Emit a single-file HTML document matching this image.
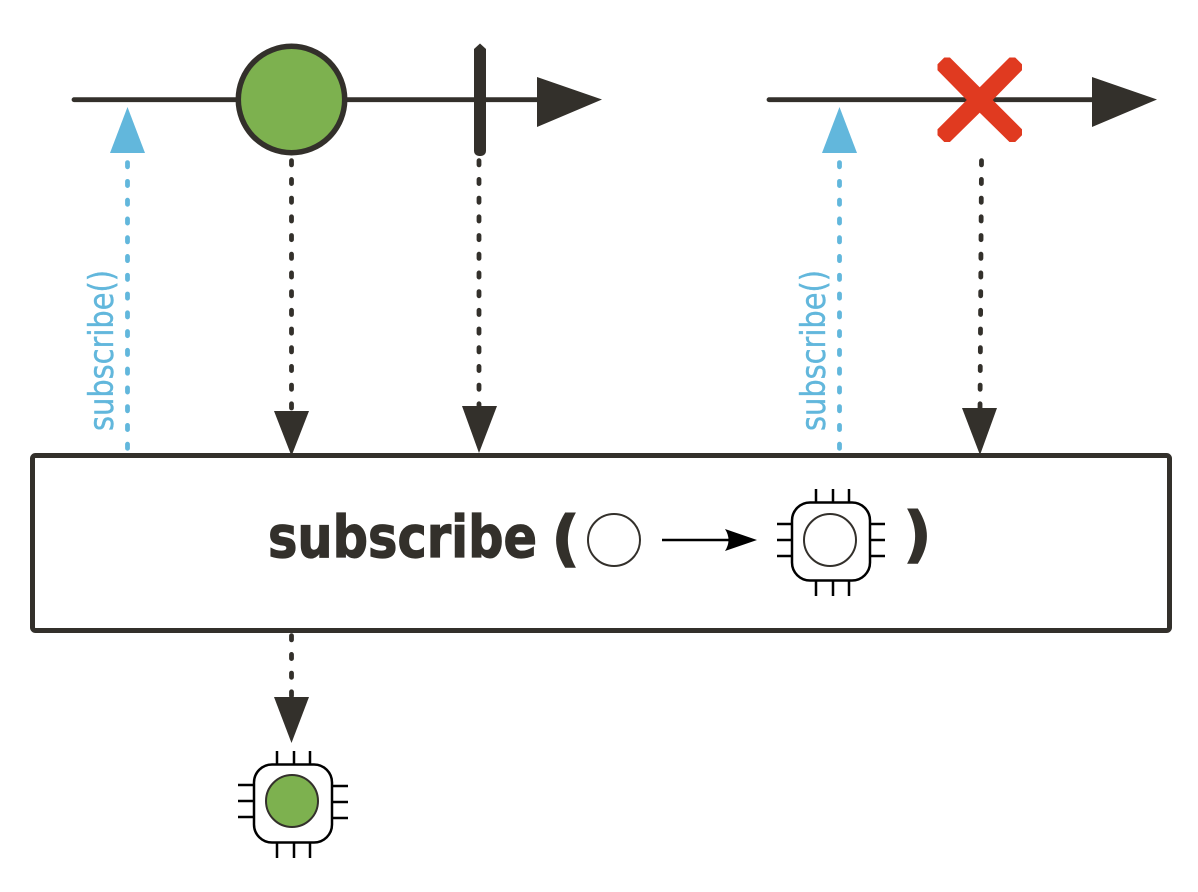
<!DOCTYPE html>
<html><head><meta charset="utf-8"><style>html,body{margin:0;padding:0;background:#fff}svg{display:block}</style></head>
<body>
<svg width="1198" height="892" viewBox="0 0 1198 892" xmlns="http://www.w3.org/2000/svg">
<g fill="none" stroke="#33302b" stroke-linecap="round">
<line x1="74" y1="99.7" x2="545" y2="99.7" stroke-width="4.8"/>
<line x1="769" y1="99.7" x2="1100" y2="99.7" stroke-width="4.8"/>
<g stroke-width="4.8" stroke-dasharray="4.2 14.5">
<line x1="291.5" y1="160.7" x2="291.5" y2="415"/>
<line x1="479" y1="160.7" x2="479" y2="410"/>
<line x1="981.5" y1="160.7" x2="980" y2="412"/>
<line x1="291.5" y1="635.7" x2="291.5" y2="702"/>
</g>
<g stroke="#62b7dc" stroke-width="4.8" stroke-dasharray="4.2 14.57">
<line x1="127.5" y1="162.6" x2="127.5" y2="450"/>
<line x1="839.5" y1="162.6" x2="839.5" y2="450"/>
</g>
</g>
<circle cx="291.5" cy="99.5" r="53.2" fill="#7db14f" stroke="#33302b" stroke-width="5.5"/>
<path d="M480 43.500l6 5.500V151a5 5 0 0 1-5 5h-2a5 5 0 0 1-5-5V49z" fill="#33302b"/>
<g fill="#33302b">
<polygon points="537,77 602,99.5 537,127"/>
<polygon points="1092,77 1157,99.5 1092,127"/>
<polygon points="274,411 309,411 291.5,456"/>
<polygon points="462,406 497,406 479,453"/>
<polygon points="962,408 997,408 980,455"/>
<polygon points="274,697 309,697 291.5,743"/>
</g>
<g fill="#62b7dc">
<polygon points="127.5,107 145,153 110,153"/>
<polygon points="839.5,107 857,153 822,153"/>
</g>
<polygon fill="#e03a20" stroke="#e03a20" stroke-width="1" stroke-linejoin="round" points="979.7,88 1009.7,58 1015,58 1021.500,64.500 1021.500,70 992,100 1021.500,129.500 1021.500,135 1015,141.500 1009.700,141.500 979.7,112 949.700,141.500 944.500,141.500 938,135 938,129.500 967.500,100 938,70 938,64.500 944.500,58 949.700,58"/>
<rect x="32.5" y="455.5" width="1137" height="175" rx="3" fill="#fff" stroke="#33302b" stroke-width="5"/>
<text x="268" y="557" font-family="'DejaVu Sans',sans-serif" font-weight="700" font-size="58" fill="#33302b" stroke="#33302b" stroke-width="1.2" textLength="269" lengthAdjust="spacingAndGlyphs">subscribe</text>
<text x="552" y="559" font-family="'DejaVu Sans',sans-serif" font-weight="700" font-size="60" fill="#33302b" stroke="#33302b" stroke-width="2" textLength="27" lengthAdjust="spacingAndGlyphs">(</text>
<text x="904" y="555" font-family="'DejaVu Sans',sans-serif" font-weight="700" font-size="60" fill="#33302b" stroke="#33302b" stroke-width="2" textLength="27" lengthAdjust="spacingAndGlyphs">)</text>
<text transform="translate(113,431) rotate(-90)" font-family="'DejaVu Sans',sans-serif" font-size="34" fill="#62b7dc" stroke="#62b7dc" stroke-width="0.4" textLength="161" lengthAdjust="spacingAndGlyphs">subscribe()</text>
<text transform="translate(825,431) rotate(-90)" font-family="'DejaVu Sans',sans-serif" font-size="34" fill="#62b7dc" stroke="#62b7dc" stroke-width="0.4" textLength="161" lengthAdjust="spacingAndGlyphs">subscribe()</text>
<circle cx="614" cy="540" r="26" fill="#fff" stroke="#33302b" stroke-width="2"/>
<line x1="662" y1="540" x2="735" y2="540" stroke="#000" stroke-width="2.5"/>
<path d="M725 529L757 540L725 551Q732 540 725 529z" fill="#000"/>
<g fill="none" stroke="#000" stroke-width="2.5">
<rect x="792" y="502.500" width="78" height="78" rx="18" fill="#fff"/>
<path d="M816 489v14M833 489v14M849 489v14M816 580v16M833 580v16M849 580v16M777 524h15M777 540h15M777 556h15M870 524h15M870 540h15M870 556h15"/>
<rect x="254" y="764.500" width="78" height="78" rx="18" fill="#fff"/>
<path d="M277 751v14M294 751v14M310 751v14M277 842v16M294 842v16M310 842v16M238 785h16M238 801h16M238 817h16M332 786h16M332 802h16M332 818h16"/>
</g>
<circle cx="830" cy="540" r="26" fill="#fff" stroke="#33302b" stroke-width="2"/>
<circle cx="292" cy="801" r="26" fill="#7db14f" stroke="#33302b" stroke-width="2"/>
</svg>
</body></html>
